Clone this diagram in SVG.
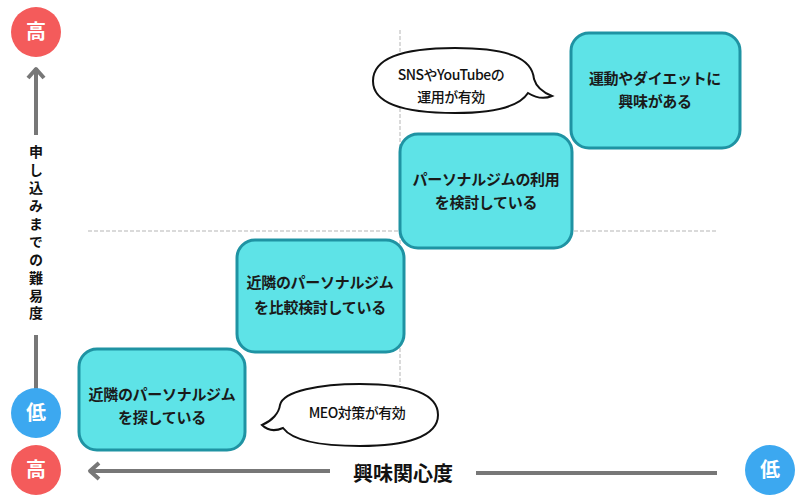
<svg xmlns="http://www.w3.org/2000/svg" width="800" height="500" viewBox="0 0 800 500">
<defs>
<style>
.box{fill:#5ee3e7;stroke:#1f93a3;stroke-width:3}
.bt{font-family:"Noto Sans CJK JP","Noto Sans",sans-serif;font-size:15px;font-weight:700;fill:#1a1a1a;text-anchor:middle;letter-spacing:-0.3px}
.bub{fill:#fff;stroke:#111;stroke-width:2}
.bubt{font-family:"Noto Sans CJK JP","Noto Sans",sans-serif;font-size:14px;font-weight:500;fill:#111;text-anchor:middle;letter-spacing:-0.5px}
.ct{font-family:"Noto Sans CJK JP",sans-serif;font-size:20px;font-weight:700;fill:#fff;text-anchor:middle}
.ax{stroke:#777;stroke-width:4;fill:none}
.axt{font-family:"Noto Sans CJK JP",sans-serif;font-weight:700;fill:#111}
.dash{stroke:#b5b5b5;stroke-width:1;stroke-dasharray:4 2;fill:none}
</style>
</defs>
<rect width="800" height="500" fill="#fff"/>
<g id="grid">
<line class="dash" x1="400" y1="30" x2="400" y2="385"/>
<line class="dash" x1="88" y1="231" x2="716" y2="231"/>
</g>
<g id="connectors">
<line class="ax" x1="36" y1="68" x2="36" y2="135"/>
<polyline class="ax" points="28,78 36,69 44,78" stroke-linejoin="round"/>
<line class="ax" x1="36" y1="335" x2="36" y2="392"/>
<line class="ax" x1="90" y1="471" x2="330" y2="471"/>
<polyline class="ax" points="99,463 90,471 99,479" stroke-linejoin="round"/>
<line class="ax" x1="476" y1="473" x2="717" y2="473"/>
</g>
<g id="axis-labels">
<text class="axt" x="36" y="145" style="font-size:14px;writing-mode:vertical-rl;letter-spacing:3.9px">申し込みまでの難易度</text>
<text class="axt" x="403" y="481" style="font-size:20px;text-anchor:middle">興味関心度</text>
</g>
<g id="c-high-top"><circle cx="36" cy="32" r="25" fill="#f45b5b"/><text class="ct" x="36" y="39">高</text></g>
<g id="c-low-left"><circle cx="36" cy="413" r="25" fill="#3ca8f0"/><text class="ct" x="36" y="420">低</text></g>
<g id="c-high-bottom"><circle cx="36" cy="470" r="25" fill="#f45b5b"/><text class="ct" x="36" y="477">高</text></g>
<g id="c-low-right"><circle cx="770" cy="470" r="25" fill="#3ca8f0"/><text class="ct" x="770" y="477">低</text></g>
<g id="box1"><rect class="box" x="79" y="349" width="166" height="101" rx="18"/>
<text class="bt" x="162" y="400">近隣のパーソナルジム</text><text class="bt" x="162" y="423">を探している</text></g>
<g id="box2"><rect class="box" x="237" y="240" width="167" height="112" rx="18"/>
<text class="bt" x="320" y="288">近隣のパーソナルジム</text><text class="bt" x="320" y="313">を比較検討している</text></g>
<g id="box3"><rect class="box" x="400" y="134" width="172" height="114" rx="18"/>
<text class="bt" x="486" y="185">パーソナルジムの利用</text><text class="bt" x="486" y="208">を検討している</text></g>
<g id="box4"><rect class="box" x="571" y="33" width="169" height="115" rx="18"/>
<text class="bt" x="655" y="84">運動やダイエットに</text><text class="bt" x="655" y="107">興味がある</text></g>
<g id="bubble-sns">
<path class="bub" d="M528 93 C536 98 545 99 552 96 C542 92 536 86 534 79 C532 58 508 48 455 48 C402 48 373 58 373 81 C373 103 402 113 455 113 C494 113 519 107 528 93 Z"/>
<text class="bubt" x="451" y="80">SNSやYouTubeの</text><text class="bubt" x="451" y="102">運用が有効</text></g>
<g id="bubble-meo">
<path class="bub" d="M283 428 C276 431 268 431 262 425 C272 421 279 413 280 405 C283 391 320 384 360 384 C405 384 438 392 438 415 C438 437 405 446 360 446 C320 446 292 440 283 428 Z"/>
<text class="bubt" x="357" y="418">MEO対策が有効</text></g>
</svg>
